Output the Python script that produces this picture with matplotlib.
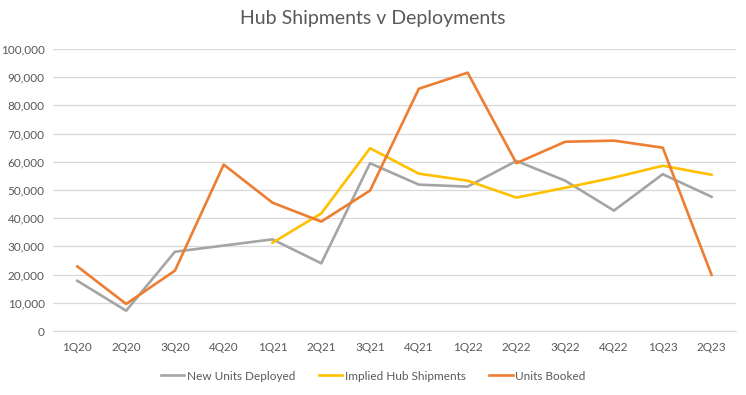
import numpy as np
import matplotlib.pyplot as plt
from matplotlib.ticker import FuncFormatter, MultipleLocator

quarters = ['1Q20', '2Q20', '3Q20', '4Q20', '1Q21', '2Q21', '3Q21',
            '4Q21', '1Q22', '2Q22', '3Q22', '4Q22', '1Q23', '2Q23']

# values
new_units_deployed = [17800, 7200, 28100, 30300, 32500, 24000, 59500,
                      51900, 51200, 60300, 53300, 42700, 55600, 47600]
implied_hub_shipments = [None, None, None, None, 31300, 41700, 64800,
                         55800, 53300, 47300, 50800, 54400, 58600, 55400]
units_booked = [22900, 9600, 21400, 59000, 45500, 38800, 49800,
                85900, 91600, 59500, 67100, 67500, 65000, 19900]

plt.rcParams['font.family'] = ['Lato', 'DejaVu Sans']
text_col = '#595959'

fig = plt.figure(figsize=(7.46, 3.95), dpi=100)
ax = fig.add_axes([0.071, 0.162, 0.9155, 0.714])

x = np.arange(len(quarters))
ihs = np.array([np.nan if v is None else v for v in implied_hub_shipments], dtype=float)

ax.plot(x, new_units_deployed, color='#A5A5A5', lw=1.9, label='New Units Deployed')
ax.plot(x, ihs, color='#FFC000', lw=1.9, label='Implied Hub Shipments')
ax.plot(x, units_booked, color='#ED7D31', lw=1.9, label='Units Booked')

ax.set_xlim(-0.5, len(quarters) - 0.5)
ax.set_ylim(0, 100000)
ax.yaxis.set_major_locator(MultipleLocator(10000))
ax.yaxis.set_major_formatter(FuncFormatter(lambda v, p: f'{int(v):,}'))
ax.set_xticks(x)
ax.set_xticklabels(quarters)
ax.grid(axis='y', color='#D9D9D9', lw=0.9)
ax.set_axisbelow(True)
for s in ['top', 'right', 'left']:
    ax.spines[s].set_visible(False)
ax.spines['bottom'].set_color('#D9D9D9')
ax.tick_params(axis='both', length=0, colors=text_col, labelsize=8.5)
ax.tick_params(axis='x', pad=8)
ax.tick_params(axis='y', pad=6)

fig.suptitle('Hub Shipments v Deployments', y=0.975, fontsize=14, color=text_col)
fig.legend(loc='center', bbox_to_anchor=(0.5, 0.048), ncol=3, frameon=False,
           fontsize=8.5, labelcolor=text_col, handlelength=2.0, columnspacing=2.0,
           handletextpad=0.2)

fig.savefig('out.png', dpi=100)
